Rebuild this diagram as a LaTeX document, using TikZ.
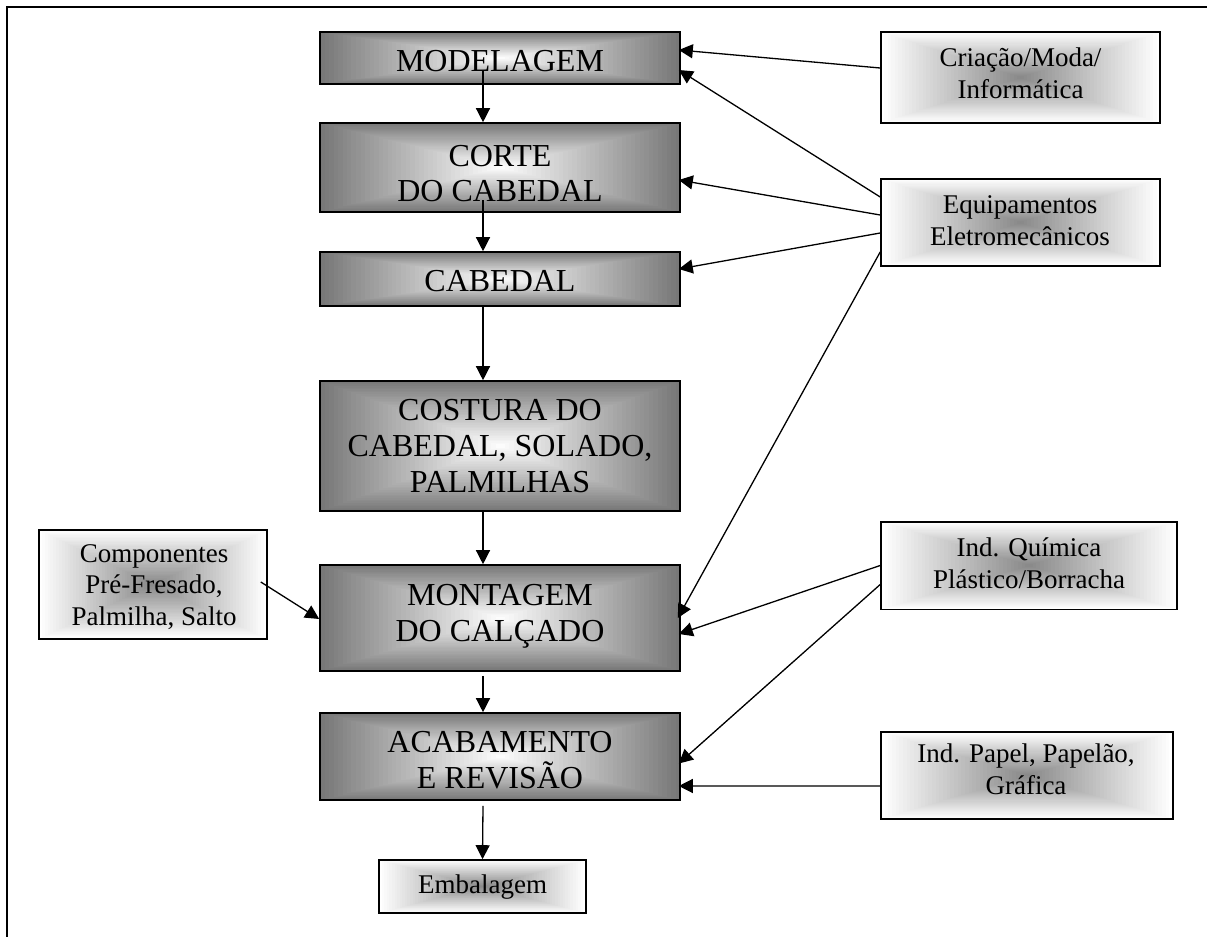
\documentclass[tikz,border=0pt]{standalone}
\usepackage{fontspec}
\setmainfont{Liberation Serif}
\usetikzlibrary{arrows.meta,calc}
\colorlet{gdark}{black!53}
\colorlet{gmid}{black!47}
\newcommand{\rectgrad}[2]{%
  \foreach \k in {0,...,40}{%
    \pgfmathsetmacro\gs{1-\k/40}%
    \pgfmathsetmacro\gp{100*\gs}%
    \fill[#1!\gp!#2] ($(path picture bounding box.center)!\gs!(path picture bounding box.north west)$) rectangle ($(path picture bounding box.center)!\gs!(path picture bounding box.south east)$);
  }}
\tikzset{
  mainbox/.style={draw, line width=0.8pt, inner sep=0pt, minimum width=180pt, path picture={\rectgrad{gdark}{white}}},
  sidebox/.style={draw, line width=0.8pt, inner sep=0pt, path picture={\rectgrad{white}{gmid}}},
  mtxt/.style={inner sep=0pt, align=center, font=\fontsize{16}{17.9}\selectfont},
  stxt/.style={inner sep=0pt, align=center, font=\fontsize{13.5}{15.8}\selectfont},
  arr/.style={-{Triangle[length=7pt,width=7pt]}, line width=0.65pt},
}
\begin{document}
\begin{tikzpicture}[x=0.5pt,y=-0.5pt]
\useasboundingbox (0,0) rectangle (1207,937);
\fill[white] (0,0) rectangle (1207,937);
\draw[line width=0.8pt] (7,937) -- (7,7) -- (1207,7);

% main chain
\node[mainbox, minimum height=26pt] (mod) at (500,58) {};
\node[mainbox, minimum height=44.5pt] (corte) at (500,167.5) {};
\node[mainbox, minimum height=27pt] (cab) at (500,279) {};
\node[mainbox, minimum height=65pt] (cost) at (500,446) {};
\node[mainbox, minimum height=53pt] (mont) at (500,618) {};
\node[mainbox, minimum height=43.5pt] (acab) at (500,756.5) {};
\node[sidebox, minimum width=103.5pt, minimum height=26.5pt] (emb) at (482.5,886.5) {};

% side boxes
\node[sidebox, minimum width=139.5pt, minimum height=45.5pt] (cria) at (1020.5,77.5) {};
\node[sidebox, minimum width=139.5pt, minimum height=43.5pt] (equip) at (1020.5,222.5) {};
\node[sidebox, minimum width=148pt, minimum height=43.8pt] (quim) at (1029,565.5) {};
\node[sidebox, minimum width=146pt, minimum height=43.6pt] (papel) at (1027,775.4) {};
\node[sidebox, minimum width=114pt, minimum height=54.5pt] (comp) at (153,584.5) {};

% texts
\node[mtxt] (modT) at (500,61.5) {MODELAGEM};
\node[mtxt] (corteT) at (500,173.5) {CORTE\\DO CABEDAL};
\node[mtxt] (cabT) at (500,281.5) {CABEDAL};
\node[mtxt] (costT) at (500,446) {COSTURA DO\\CABEDAL, SOLADO,\\PALMILHAS};
\node[mtxt] (montT) at (500,616.5) {MONTAGEM\\DO CALÇADO};
\node[mtxt] (acabT) at (500,760.5) {ACABAMENTO\\E REVISÃO};
\node[stxt] (embT) at (482.5,886.7) {Embalagem};
\node[stxt] (criaT) at (1020.5,73) {Criação/Moda/\\Informática};
\node[stxt] (equipT) at (1020,220.5) {Equipamentos\\Eletromecânicos};
\node[stxt] (quimT) at (1029,563) {Ind. Química\\Plástico/Borracha};
\node[stxt] (papelT) at (1026,769.5) {Ind. Papel, Papelão,\\Gráfica};
\node[stxt] (compT) at (154,587) {Componentes\\Pré-Fresado,\\Palmilha, Salto};

% vertical arrows
\draw[arr] ($(mod.center)+(-17,12)$) -- ($(corte.north)+(-17,0)$);
\draw[arr] ($(corte.center)+(-17,32.5)$) -- ($(cab.north)+(-17,0)$);
\draw[arr] ($(cab.south)+(-17,0)$) -- ($(cost.north)+(-17,0)$);
\draw[arr] ($(cost.south)+(-17,0)$) -- ($(mont.north)+(-17,0)$);
\draw[arr] ($(mont.south)+(-17,4)$) -- ($(acab.north)+(-17,0)$);
\draw[arr] ($(acab.south)+(-17,5)$) -- (emb.north);

% side arrows
\draw[arr] ($(cria.west)+(0,-9.5)$) -- ($(mod.east)+(-2,-8)$);
\draw[arr] ($(equip.west)+(0,-25.5)$) -- ($(mod.east)+(-2,12)$);
\draw[arr] ($(equip.west)+(0,-7.5)$) -- ($(corte.east)+(-2,12.5)$);
\draw[arr] ($(equip.west)+(0,10.5)$) -- ($(cab.east)+(-2,-10)$);
\draw[arr] ($(equip.west)+(0,29.5)$) -- ($(mont.east)+(-3,0)$);
\draw[arr] ($(quim.west)+(0,0)$) -- ($(mont.east)+(-2,16)$);
\draw[arr] ($(quim.west)+(0,19)$) -- ($(acab.east)+(-2,7)$);
\draw[arr] ($(papel.west)+(0,10.5)$) -- ($(acab.east)+(-2,29.5)$);
\draw[arr] ($(comp.east)+(-7,-2.5)$) -- ($(mont.west)+(0,1)$);
\end{tikzpicture}
\end{document}
